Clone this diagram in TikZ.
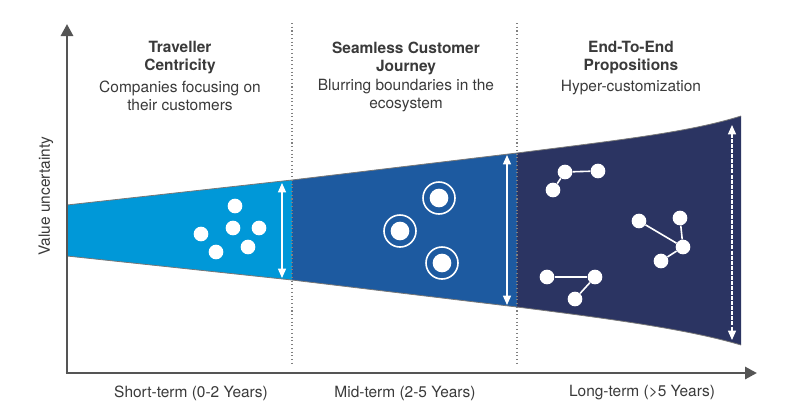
\documentclass[tikz,border=0pt]{standalone}
\usepackage{fontspec}
\setmainfont{TeX Gyre Heros}
\usetikzlibrary{arrows.meta}
\definecolor{cLight}{HTML}{0098D8}
\definecolor{cMid}{HTML}{1D5AA0}
\definecolor{cDark}{HTML}{2B3462}
\definecolor{cAxis}{HTML}{555555}
\definecolor{cText}{HTML}{3A3A3A}
\tikzset{
  axisline/.style={draw=cAxis, line width=2.2pt, -{Triangle[width=9pt,length=9pt]}},
  divider/.style={draw=gray, dotted, line width=0.8pt},
  edgeline/.style={draw=cAxis!80, line width=0.6pt},
  span/.style={draw=white, line width=1pt, {Triangle[width=6pt,length=7pt]}-{Triangle[width=6pt,length=7pt]}},
  dot/.style={circle, fill=white, inner sep=0pt, minimum size=11pt},
  ring/.style={circle, draw=white, line width=1.2pt, inner sep=0pt, minimum size=24pt},
  link/.style={draw=white, line width=1.2pt},
  title/.style={font=\bfseries\fontsize{11.6}{13.5}\selectfont, text=cText, align=center},
  body/.style={font=\fontsize{11.6}{13.5}\selectfont, text=cText, align=center},
  axlabel/.style={font=\fontsize{11.6}{13.5}\selectfont, text=cText}
}
\begin{document}
\begin{tikzpicture}[x=0.75pt,y=-0.75pt]
\useasboundingbox (0,0) rectangle (789,419);
% funnel sections
\fill[cLight] (67,205) -- (292,180) -- (292,280) -- (67,256) -- cycle;
\fill[cMid] (292,180) -- (517,153) -- (517,307) -- (292,280) -- cycle;
\fill[cDark] (517,153) .. controls (620,140) and (690,132) .. (741,116) -- (741,345) .. controls (690,330) and (620,320) .. (517,307) -- cycle;
% funnel edges
\draw[edgeline] (67,205) -- (292,180) -- (517,153) .. controls (620,140) and (690,132) .. (741,116);
\draw[edgeline] (67,256) -- (292,280) -- (517,307) .. controls (620,320) and (690,330) .. (741,345);
% dividers
\coordinate (d1t) at (292,23); \coordinate (d1b) at (292,363);
\coordinate (d2t) at (517,23); \coordinate (d2b) at (517,363);
\draw[divider] (d1t) -- (d1b);
\draw[divider] (d2t) -- (d2b);
% axes
\coordinate (origin) at (67,373);
\coordinate (ytip) at (67,24);
\coordinate (xtip) at (757,373);
\draw[axisline] (origin) -- (ytip);
\draw[axisline] ([xshift=-1.1pt]origin) -- (xtip);
% span arrows
\coordinate (s1t) at (282,183); \coordinate (s1b) at (282,278);
\coordinate (s2t) at (507,155); \coordinate (s2b) at (507,305);
\coordinate (s3t) at (732,125); \coordinate (s3b) at (732,340);
\draw[span] (s1t) -- (s1b);
\draw[span] (s2t) -- (s2b);
\draw[span,dashed,dash pattern=on 3pt off 0.8pt] (s3t) -- (s3b);
% section 1 dots
\node[dot] (p1) at (235,206) {};
\node[dot] (p2) at (233,228) {};
\node[dot] (p3) at (259,228) {};
\node[dot] (p4) at (201,234) {};
\node[dot] (p5) at (248,247) {};
\node[dot] (p6) at (216,252) {};
% section 2 rings
\node[dot, minimum size=14pt] (q1) at (439,198) {};
\node[ring] (r1) at (439,198) {};
\node[dot, minimum size=14pt] (q2) at (400,231) {};
\node[ring] (r2) at (400,231) {};
\node[dot, minimum size=14pt] (q3) at (442,263) {};
\node[ring] (r3) at (442,263) {};
% section 3 networks
\node[dot] (a) at (565,172) {};
\node[dot] (b) at (598,171) {};
\node[dot] (c) at (553,190) {};
\draw[link] (a) -- (b); \draw[link] (a) -- (c);
\node[dot] (d) at (639,221) {};
\node[dot] (e) at (680,218) {};
\node[dot] (f) at (683,247) {};
\node[dot] (g) at (661,261) {};
\draw[link] (d) -- (f); \draw[link] (e) -- (f); \draw[link] (g) -- (f);
\node[dot] (h) at (547,277) {};
\node[dot] (i) at (595,277) {};
\node[dot] (j) at (575,299) {};
\draw[link] (h) -- (i); \draw[link] (i) -- (j);
% headings
\node[title] (t1) at (180,58) {Traveller\\Centricity};
\node[body] (b1) at (180,96) {Companies focusing on\\their customers};
\node[title] (t2) at (406,58) {Seamless Customer\\Journey};
\node[body] (b2) at (406,96) {Blurring boundaries in the\\ecosystem};
\node[title] (t3) at (631,58) {End-To-End\\Propositions};
\node[body] (b3) at (631,88) {Hyper-customization};
% axis labels
\node[axlabel] (x1) at (191,393) {Short-term (0-2 Years)};
\node[axlabel] (x2) at (405,393) {Mid-term (2-5 Years)};
\node[axlabel] (x3) at (642,393) {Long-term (>5 Years)};
\node[axlabel, rotate=90] (yl) at (46,196) {Value uncertainty};
\end{tikzpicture}
\end{document}
